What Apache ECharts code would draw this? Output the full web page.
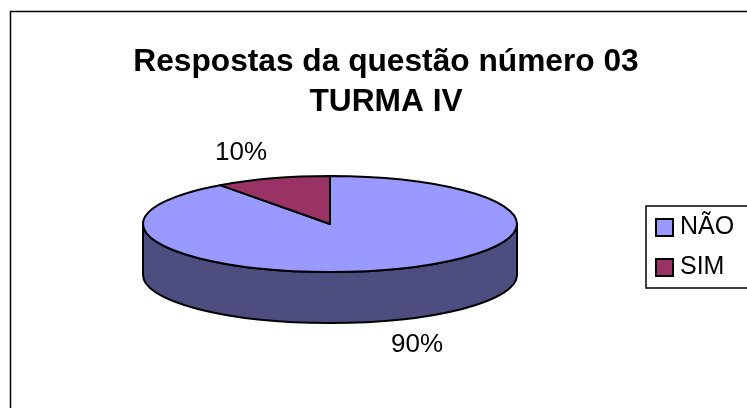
<!DOCTYPE html>
<html>
<head>
<meta charset="utf-8">
<style>
  html, body { margin: 0; padding: 0; background: #fff; }
  #chart { width: 747px; height: 408px; }
</style>
<script src="https://cdn.jsdelivr.net/npm/echarts@6/dist/echarts.min.js"></script>
</head>
<body>
<div id="chart"></div>
<script>
const categories = ["NÃO", "SIM"];
const values = [90, 10];
const topColors = ["#9999FF", "#993366"];
const sideColors = ["#4D4D80", "#4D1A33"];

const font = "Liberation Sans";
const cx = 330, cy = 224, rx = 187, ry = 48, depth = 51;
// where the percent labels sit, same order as categories
const labelPos = [[417, 345], [241, 153]];

const total = values.reduce((a, b) => a + b, 0);

// angle is clockwise from the top of the ellipse
function px(a) { return cx + rx * Math.sin(a); }
function py(a) { return cy - ry * Math.cos(a); }

function slicePath(a0, a1) {
  const large = a1 - a0 > Math.PI ? 1 : 0;
  return "M" + cx + " " + cy + "L" + px(a0) + " " + py(a0) +
    "A" + rx + " " + ry + " 0 " + large + " 1 " + px(a1) + " " + py(a1) + "Z";
}

// only the front half of the pie shows a wall
function wallPath(a0, a1) {
  const s = Math.max(a0, Math.PI / 2), e = Math.min(a1, Math.PI * 1.5);
  if (e <= s) return null;
  return "M" + px(s) + " " + py(s) +
    "A" + rx + " " + ry + " 0 0 1 " + px(e) + " " + py(e) +
    "L" + px(e) + " " + (py(e) + depth) +
    "A" + rx + " " + ry + " 0 0 0 " + px(s) + " " + (py(s) + depth) + "Z";
}

function sliceSeries(i) {
  const before = values.slice(0, i).reduce((a, b) => a + b, 0);
  return {
    name: categories[i],
    type: "custom",
    coordinateSystem: "none",
    itemStyle: { color: topColors[i], borderColor: "#000", borderWidth: 2 },
    silent: true,
    z: 3,
    data: [[before, values[i]]],
    renderItem: function (params, api) {
      const a0 = api.value(0) / total * Math.PI * 2;
      const a1 = (api.value(0) + api.value(1)) / total * Math.PI * 2;
      const line = { stroke: "#000", lineWidth: 2, lineJoin: "round" };
      const children = [];
      const wall = wallPath(a0, a1);
      if (wall) {
        children.push({
          type: "path",
          shape: { pathData: wall },
          style: Object.assign({ fill: sideColors[i] }, line)
        });
      }
      children.push({
        type: "path",
        shape: { pathData: slicePath(a0, a1) },
        style: Object.assign({ fill: topColors[i] }, line)
      });
      children.push({
        type: "text",
        style: {
          text: Math.round(api.value(1) / total * 100) + "%",
          x: labelPos[i][0],
          y: labelPos[i][1],
          align: "center",
          verticalAlign: "middle",
          fill: "#000",
          font: "26px '" + font + "'"
        }
      });
      return { type: "group", children: children };
    }
  };
}

const chart = echarts.init(document.getElementById("chart"), null, { renderer: "canvas" });
chart.setOption({
  animation: false,
  backgroundColor: "#fff",
  title: {
    text: "Respostas da questão número 03\nTURMA IV",
    left: 381,
    top: 37,
    textAlign: "center",
    textStyle: { fontFamily: font, fontSize: 31.7, fontWeight: "bold", color: "#000", lineHeight: 40 }
  },
  legend: {
    data: categories,
    orient: "vertical",
    left: 646,
    top: 206,
    padding: [9, 30, 8, 9],
    itemGap: 15,
    itemWidth: 17,
    itemHeight: 17,
    icon: "rect",
    borderColor: "#000",
    borderWidth: 1.5,
    selectedMode: false,
    itemStyle: { borderColor: "#000", borderWidth: 2 },
    textStyle: { fontFamily: font, fontSize: 25, color: "#000", padding: [0, 0, 0, 2] }
  },
  graphic: [{
    // chart area frame, runs off the right and bottom of the picture
    type: "rect",
    silent: true,
    z: 0,
    shape: { x: 10.5, y: 11.5, width: 800, height: 500 },
    style: { fill: "#fff", stroke: "#000", lineWidth: 1.5 }
  }],
  series: categories.map((c, i) => sliceSeries(i))
});
</script>
</body>
</html>
